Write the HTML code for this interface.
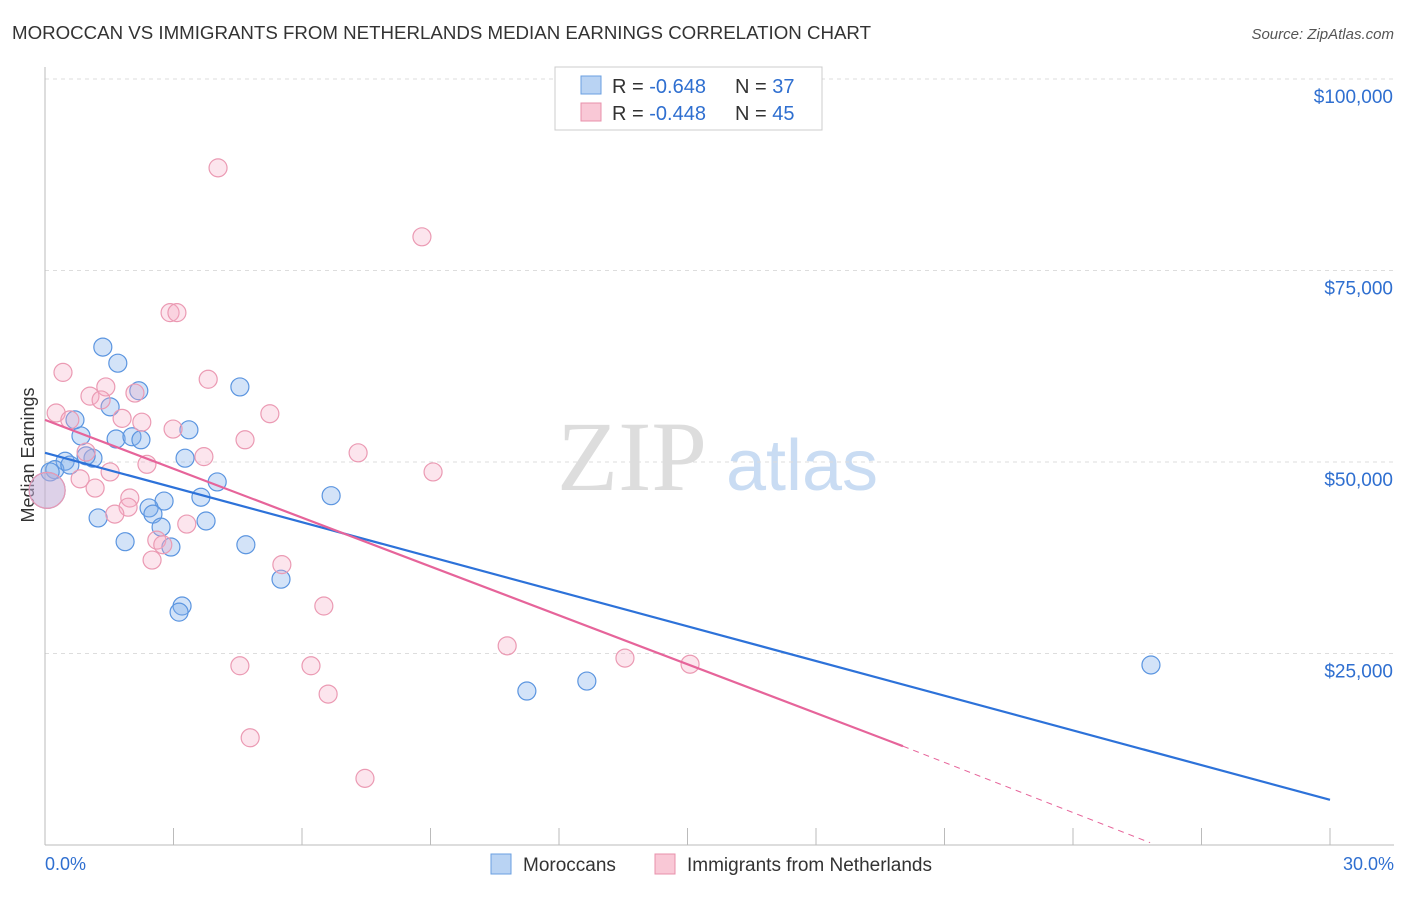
<!DOCTYPE html>
<html><head><meta charset="utf-8"><style>
body{margin:0;background:#fff;font-family:"Liberation Sans",sans-serif}
</style></head><body>
<svg width="1406" height="892" xmlns="http://www.w3.org/2000/svg" id="chart">
<text x="12" y="39" font-size="18.7" fill="#333">MOROCCAN VS IMMIGRANTS FROM NETHERLANDS MEDIAN EARNINGS CORRELATION CHART</text>
<text x="1394" y="39" font-size="15" fill="#555" font-style="italic" text-anchor="end">Source: ZipAtlas.com</text>
<text x="632" y="490" font-size="100" fill="#ddd" font-family="Liberation Serif,serif" text-anchor="middle">ZIP</text>
<text x="802" y="490" font-size="72" fill="#c9dcf3" text-anchor="middle">atlas</text>
<text transform="translate(34,455) rotate(-90)" font-size="18" fill="#333" text-anchor="middle">Median Earnings</text>
<g id="grid"></g><g id="pts"></g><g id="lines"></g>
<g>
<rect x="555" y="67" width="267" height="63" fill="#fff" stroke="#ccc"/>
<rect x="581" y="76" width="20" height="18" fill="#b9d3f3" stroke="#6a9fe0"/>
<rect x="581" y="103" width="20" height="18" fill="#f9c8d6" stroke="#e890ab"/>
<text x="612" y="93" font-size="20" fill="#333">R = <tspan fill="#2f6fd0">-0.648</tspan><tspan x="735">N = </tspan><tspan fill="#2f6fd0">37</tspan></text>
<text x="612" y="120" font-size="20" fill="#333">R = <tspan fill="#2f6fd0">-0.448</tspan><tspan x="735">N = </tspan><tspan fill="#2f6fd0">45</tspan></text>
</g>
<g>
<rect x="491" y="854" width="20" height="20" fill="#b9d3f3" stroke="#6a9fe0"/>
<text x="523" y="871" font-size="19" fill="#333">Moroccans</text>
<rect x="655" y="854" width="20" height="20" fill="#f9c8d6" stroke="#e890ab"/>
<text x="687" y="871" font-size="19" fill="#333">Immigrants from Netherlands</text>
</g>
<text x="45" y="870" font-size="18" fill="#2f6fd0">0.0%</text>
<text x="1394" y="870" font-size="18" fill="#2f6fd0" text-anchor="end">30.0%</text>
</svg>
<script>
const yTicks=[100000,75000,50000,25000];
const yTickLabels=["$100,000","$75,000","$50,000","$25,000"];
const xTicks=[0,3,6,9,12,15,18,21,24,27,30];
const blueX=[1.35,1.70,2.19,4.55,1.52,0.84,0.70,1.66,2.03,2.24,3.36,3.27,1.12,0.47,0.23,0.12,4.02,3.64,6.68,2.78,2.43,2.52,1.24,3.76,2.71,1.87,2.94,4.69,5.51,3.20,3.13,11.25,12.65,25.82,0.05,0.58,0.96];
const blueY=[65000,62900,59300,59800,57200,53400,55500,53000,53300,52900,54200,50500,50500,50100,49000,48700,47400,45400,45600,44900,44000,43200,42700,42300,41500,39600,38900,39200,34700,31200,30400,20100,21400,23500,46300,49600,50800];
const blueR=[9,9,9,9,9,9,9,9,9,9,9,9,9,9,9,9,9,9,9,9,9,9,9,9,9,9,9,9,9,9,9,9,9,9,18,9,9];
const pinkX=[4.04,8.80,2.92,3.08,0.42,3.81,1.42,1.05,2.10,1.31,0.26,0.58,1.80,2.26,5.25,2.99,4.67,7.31,9.06,3.71,2.38,1.52,0.82,1.17,1.98,1.94,1.63,2.61,2.75,2.50,3.31,5.53,6.51,10.79,13.54,15.06,4.55,6.21,6.61,4.79,7.47,0.05,0.96];
const pinkY=[88400,79400,69500,69500,61700,60800,59800,58600,59000,58100,56400,55500,55700,55200,56300,54300,52900,51200,48700,50700,49700,48700,47800,46600,45300,44100,43200,39800,39200,37200,41900,36600,31200,26000,24400,23600,23400,23400,19700,14000,8700,46300,51300];
const pinkR=pinkX.map((_,i)=>i===41?18:9);
const blueTrend=[[0,51200],[30,5900]];
const pinkTrend=[[0,55500],[20.03,12900]];
const pinkTrendDash=[[20.03,12900],[25.8,300]];
const NS="http://www.w3.org/2000/svg";
const sx=v=>45+v/30*1285, sy=v=>845-v/100000*766;
function mk(t,a,p){const e=document.createElementNS(NS,t);for(const k in a)e.setAttribute(k,a[k]);p.appendChild(e);return e;}
const g=document.getElementById('grid');
yTicks.forEach((t,i)=>{
 const l=mk('line',{x1:45,x2:1394,y1:sy(t),y2:sy(t),stroke:'#ddd','stroke-dasharray':'4,4'},g);
 
 
 const tx=mk('text',{x:1393,y:sy(t)+24,'font-size':19,fill:'#2f6fd0','text-anchor':'end'},g);
 tx.textContent=yTickLabels[i];
 
 
});
const ax=mk('line',{x1:45,x2:45,y1:67,y2:845,stroke:'#bbb'},g);


const bx=mk('line',{x1:45,x2:1394,y1:845,y2:845,stroke:'#bbb'},g);


xTicks.forEach(t=>{
 const l=mk('line',{x1:sx(t),x2:sx(t),y1:828,y2:845,stroke:'#bbb'},g);
 
 
});
const P=document.getElementById('pts');
blueX.forEach((x,i)=>{
 const c=mk('circle',{cx:sx(x),cy:sy(blueY[i]),r:blueR[i],fill:'rgba(130,175,235,0.35)',stroke:'#5b95e0','stroke-width':1.2},P);
 
 
});
pinkX.forEach((x,i)=>{
 const c=mk('circle',{cx:sx(x),cy:sy(pinkY[i]),r:pinkR[i],fill:'rgba(245,170,195,0.3)',stroke:'#eb9ab3','stroke-width':1.2},P);
 
 
});
const L=document.getElementById('lines');
const b=mk('line',{x1:sx(blueTrend[0][0]),y1:sy(blueTrend[0][1]),x2:sx(blueTrend[1][0]),y2:sy(blueTrend[1][1]),stroke:'#2d72d9','stroke-width':2.2},L);


const p=mk('line',{x1:sx(pinkTrend[0][0]),y1:sy(pinkTrend[0][1]),x2:sx(pinkTrend[1][0]),y2:sy(pinkTrend[1][1]),stroke:'#e6649a','stroke-width':2.2},L);


const pd=mk('line',{x1:sx(pinkTrendDash[0][0]),y1:sy(pinkTrendDash[0][1]),x2:sx(pinkTrendDash[1][0]),y2:sy(pinkTrendDash[1][1]),stroke:'#e6649a','stroke-width':1,'stroke-dasharray':'6,5'},L);


</script>
</body></html>
